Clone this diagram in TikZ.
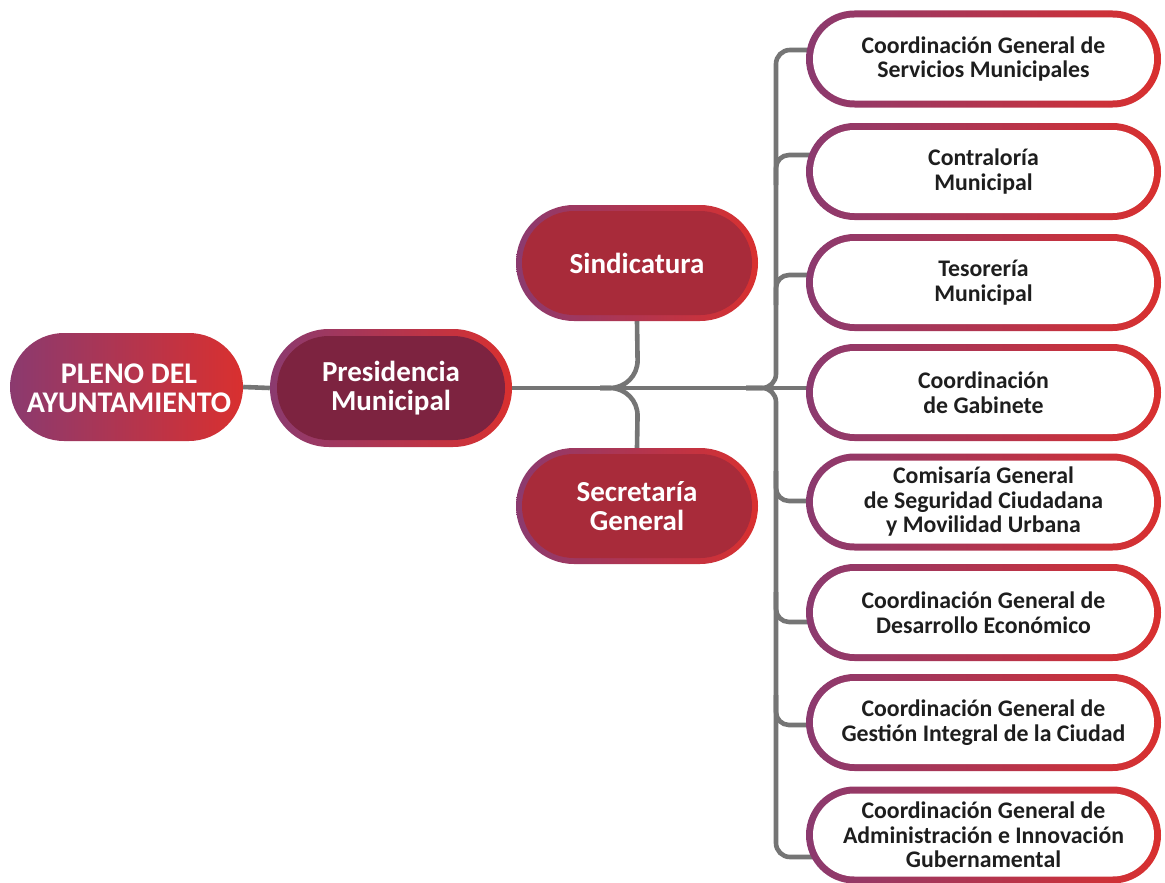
\documentclass[tikz,border=0pt]{standalone}
\usepackage{fontspec}
\setmainfont{Carlito}
\usetikzlibrary{shapes.misc,calc}
\definecolor{cpurple}{HTML}{8B3A6F}
\definecolor{cred}{HTML}{D9302F}
\definecolor{cmaroon}{HTML}{7D2340}
\definecolor{ccrimson}{HTML}{A82B3A}
\definecolor{cline}{HTML}{757575}
\definecolor{ctext}{HTML}{1E1E1E}
\pgfdeclarelayer{bg}
\pgfsetlayers{bg,main}
\tikzset{
  outerpill/.style={rounded rectangle, inner sep=0pt, draw=none, left color=cpurple, right color=cred},
  innerpill/.style={rounded rectangle, inner sep=0pt, draw=none, fill=#1},
  rtext/.style={align=center, font=\fontsize{23.8}{24.5}\selectfont\bfseries, text=ctext, inner sep=0pt},
  ltext/.style={align=center, font=\fontsize{29}{29}\selectfont\bfseries, text=white, inner sep=0pt},
  conn/.style={draw=cline, line width=4.6pt},
}
\newcommand\rbox[3]{%
  \node[outerpill, minimum width=355pt, minimum height=97pt] (#1) at (983.5,#2) {};
  \node[innerpill=white, minimum width=341pt, minimum height=83pt] (#1i) at (#1) {};
  \node[rtext] (#1t) at (#1) {#3};}
\begin{document}
\begin{tikzpicture}[x=1pt,y=-1pt]
\useasboundingbox (0,0) rectangle (1165,883);

% left boxes
\node[outerpill, minimum width=233pt, minimum height=108pt] (pleno) at (126.5,387) {};
\node[ltext, font=\fontsize{30}{29}\selectfont\bfseries] (plenot) at (129,388) {PLENO DEL\\AYUNTAMIENTO};

\node[outerpill, minimum width=242pt, minimum height=118pt] (pres) at (391,388) {};
\node[innerpill=cmaroon, minimum width=228pt, minimum height=104pt] (presi) at (pres) {};
\node[ltext] (prest) at (pres) {Presidencia\\Municipal};

\node[outerpill, minimum width=242pt, minimum height=116pt] (sind) at (637,263) {};
\node[innerpill=ccrimson, minimum width=230pt, minimum height=104pt] (sindi) at (sind) {};
\node[ltext] (sindt) at (sind) {Sindicatura};

\node[outerpill, minimum width=242pt, minimum height=116pt] (secr) at (637,506) {};
\node[innerpill=ccrimson, minimum width=230pt, minimum height=104pt] (secri) at (secr) {};
\node[ltext] (secrt) at (secr) {Secretaría\\General};

% right boxes
\rbox{b1}{59}{Coordinación General de\\Servicios Municipales}
\rbox{b2}{171.5}{Contraloría\\Municipal}
\rbox{b3}{282.5}{Tesorería\\Municipal}
\rbox{b4}{392.5}{Coordinación\\de Gabinete}
\rbox{b5}{502}{Comisaría General\\de Seguridad Ciudadana\\y Movilidad Urbana}
\rbox{b6}{612.5}{Coordinación General de\\Desarrollo Económico}
\rbox{b7}{722.5}{Coordinación General de\\Gestión Integral de la Ciudad}
\rbox{b8}{835}{Coordinación General de\\Administración e Innovación\\Gubernamental}

% junction coordinates
\coordinate (tr) at (776,388);
\coordinate (tl) at (600,388);
\coordinate (sj) at (638,388);
\coordinate (j1) at (776,50);
\coordinate (j2) at (776,155);
\coordinate (j3) at (776,275);
\coordinate (j5) at (776,501);
\coordinate (j6) at (776,622);
\coordinate (j7) at (776,725);
\coordinate (j8) at (776,857);

\begin{pgfonlayer}{bg}
  \fill[white] (0,0) rectangle (1165,883);
  \draw[conn] (pleno.east) -- (pres.west);
  \draw[conn] (pres.east) -- ($(pres.east -| b4.west)+(15,0)$);
  \draw[conn, rounded corners=28pt] (sind.south) -- (sj) -- (tl);
  \draw[conn, rounded corners=28pt] (secr.north) -- (sj) -- (tl);
  \draw[conn, rounded corners=14pt] ($(j1 -| b1.west)+(15,0)$) -- (j1) -- (tr) -- ++(-30,0);
  \draw[conn, rounded corners=14pt] ($(j8 -| b8.west)+(15,0)$) -- (j8) -- (tr) -- ++(-30,0);
  \draw[conn, rounded corners=13pt] ($(j2 -| b2.west)+(15,0)$) -- (j2) -- ++(0,30);
  \draw[conn, rounded corners=13pt] ($(j3 -| b3.west)+(15,0)$) -- (j3) -- ++(0,30);
  \draw[conn, rounded corners=13pt] ($(j5 -| b5.west)+(15,0)$) -- (j5) -- ++(0,-30);
  \draw[conn, rounded corners=13pt] ($(j6 -| b6.west)+(15,0)$) -- (j6) -- ++(0,-30);
  \draw[conn, rounded corners=13pt] ($(j7 -| b7.west)+(15,0)$) -- (j7) -- ++(0,-30);
\end{pgfonlayer}
\end{tikzpicture}
\end{document}
